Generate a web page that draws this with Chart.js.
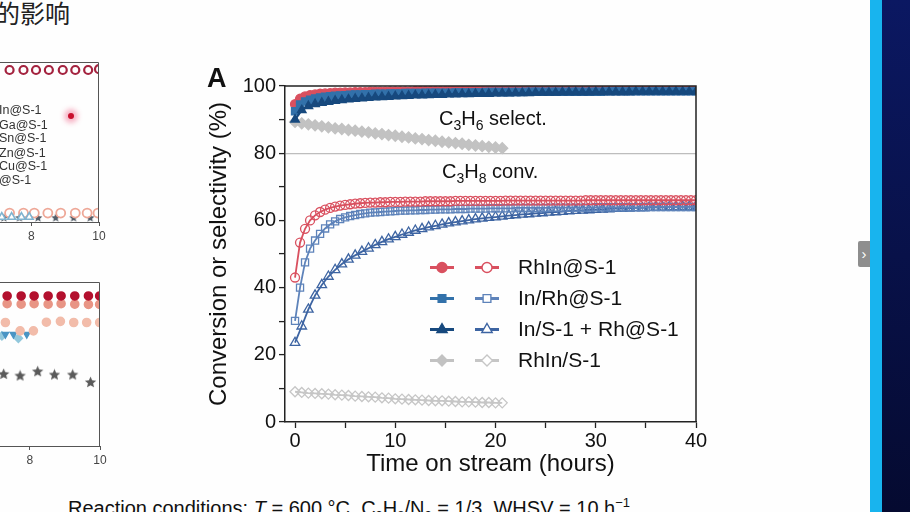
<!DOCTYPE html>
<html><head><meta charset="utf-8">
<script src="https://cdn.jsdelivr.net/npm/chart.js@4.4.1/dist/chart.umd.min.js"></script>
<style>
html,body{margin:0;padding:0;background:#fff;}
#page{position:relative;width:910px;height:512px;overflow:hidden;background:#fefefe;font-family:"Liberation Sans",Arial,sans-serif;color:#111;}
canvas{position:absolute;}
#title{position:absolute;left:-5px;top:-1px;font-family:"Noto Sans CJK SC",sans-serif;font-size:25px;line-height:27px;color:#222;}
.lg{position:absolute;left:-1px;font-size:12.5px;line-height:14px;color:#333;}
#dot{position:absolute;left:68px;top:113px;width:6px;height:6px;border-radius:50%;background:#c8102e;box-shadow:0 0 5px 4px rgba(240,90,130,0.45);}
#caption{position:absolute;left:68px;top:496px;font-size:20px;line-height:24px;white-space:nowrap;color:#111;}
#caption sub,#caption sup{font-size:13px;line-height:0;}
#cyan{position:absolute;left:870px;top:0;width:12px;height:512px;background:#18b4ee;}
#dark{position:absolute;left:882px;top:0;width:28px;height:512px;background:linear-gradient(#0b1862,#050a30);}
#tab{position:absolute;left:858px;top:241px;width:12px;height:26px;background:#8e8e8e;border-radius:2px 0 0 2px;color:#fff;font-size:15px;line-height:26px;text-align:center;}
</style></head><body>
<div id="page">
  <div id="title">的影响</div>
  <canvas id="lt" width="366" height="200" style="left:-246px;top:50px;width:366px;height:200px;"></canvas>
  <canvas id="lb" width="376" height="200" style="left:-256px;top:270px;width:376px;height:200px;"></canvas>
  <div class="lg" style="top:103px">In@S-1</div>
  <div class="lg" style="top:118px">Ga@S-1</div>
  <div class="lg" style="top:131px">Sn@S-1</div>
  <div class="lg" style="top:146px">Zn@S-1</div>
  <div class="lg" style="top:159px">Cu@S-1</div>
  <div class="lg" style="top:173px">@S-1</div>
  <div id="dot"></div>
  <canvas id="main" width="530" height="440" style="left:190px;top:50px;width:530px;height:440px;"></canvas>
  <div id="caption">Reaction conditions: <i>T</i> = 600 °C, C<sub>3</sub>H<sub>8</sub>/N<sub>2</sub> = 1/3, WHSV = 10 h<sup>−1</sup></div>
  <div id="tab">›</div>
  <div id="cyan"></div><div id="dark"></div>
</div>
<script>
// ---------- main chart data ----------
const tA = [0,0.5,1,1.5,2,2.5,3,3.5,4,4.5,
 5,5.5,6,6.5,7,7.5,8,8.5,9,9.5,
 10,10.5,11,11.5,12,12.5,13,13.5,14,14.5,
 15,15.5,16,16.5,17,17.5,18,18.5,19,19.5,
 20,20.5,21,21.5,22,22.5,23,23.5,24,24.5,
 25,25.5,26,26.5,27,27.5,28,28.5,29,29.5,
 30,30.5,31,31.5,32,32.5,33,33.5,34,34.5,
 35,35.5,36,36.5,37,37.5,38,38.5,39,39.5,
 40];
const tB = [0,0.67,1.33,2,2.67,3.33,4,4.67,5.33,
 6,6.67,7.33,8,8.67,9.33,10,10.67,11.33,
 12,12.67,13.33,14,14.67,15.33,16,16.67,17.33,
 18,18.67,19.33,20,20.67,21.33,22,22.67,23.33,
 24,24.67,25.33,26,26.67,27.33,28,28.67,29.33,
 30,30.67,31.33,32,32.67,33.33,34,34.67,35.33,
 36,36.67,37.33,38,38.67,39.33,40];
const tGray = [0,0.67,1.33,2,2.67,3.33,4,4.67,5.33,
 6,6.67,7.33,8,8.67,9.33,10,10.67,11.33,
 12,12.67,13.33,14,14.67,15.33,16,16.67,17.33,
 18,18.67,19.33,20,20.67];

const rhInConv = [43,53.4,57.5,60,61.5,62.5,63.2,63.7,64.1,64.4,
 64.6,64.8,65,65.1,65.2,65.3,65.3,65.4,65.4,65.5,
 65.5,65.5,65.6,65.6,65.6,65.6,65.7,65.7,65.7,65.7,
 65.7,65.7,65.8,65.8,65.8,65.8,65.8,65.8,65.8,65.8,
 65.8,65.8,65.9,65.9,65.9,65.9,65.9,65.9,65.9,65.9,
 65.9,65.9,65.9,65.9,65.9,65.9,65.9,65.9,66,66,
 66,66,66,66,66,66,66,66,66,66,
 66,66,66,66,66,66,66,66,66,66,
 66];
const inRhConv = [30.1,40,47.5,51.6,54,56,57.6,58.8,59.7,60.4,
 60.9,61.3,61.6,61.9,62.1,62.3,62.4,62.5,62.6,62.7,
 62.8,62.9,62.9,63,63,63.1,63.1,63.2,63.2,63.3,
 63.3,63.3,63.4,63.4,63.4,63.5,63.5,63.5,63.5,63.6,
 63.6,63.6,63.6,63.6,63.7,63.7,63.7,63.7,63.7,63.7,
 63.7,63.8,63.8,63.8,63.8,63.8,63.8,63.8,63.8,63.8,
 63.9,63.9,63.9,63.9,63.9,63.9,63.9,63.9,63.9,63.9,
 63.9,64,64,64,64,64,64,64,64,64,
 64];
const triConv = [23.6,28.5,33.5,37.7,40.8,43.3,45.3,47,48.4,
 49.6,50.7,51.7,52.7,53.6,54.4,55.1,55.8,56.4,
 57,57.5,58,58.4,58.8,59.2,59.5,59.8,60.1,
 60.4,60.6,60.8,61,61.2,61.4,61.6,61.8,61.9,
 62.1,62.2,62.4,62.5,62.6,62.8,62.9,63,63.1,
 63.2,63.3,63.4,63.5,63.5,63.6,63.7,63.7,63.8,
 63.9,63.9,64,64,64.1,64.1,64.2];
const grayConv = [9.0,8.8,8.6,8.5,8.4,8.3,8.1,8.0,7.9,
 7.7,7.6,7.5,7.4,7.2,7.1,6.9,6.8,6.7,
 6.6,6.5,6.4,6.3,6.3,6.2,6.1,6.0,6.0,
 5.9,5.8,5.8,5.7,5.7];

const rhInSel = [94.6,96.2,96.9,97.3,97.5,97.7,97.8,97.9,98,98,
 98.1,98.1,98.2,98.2,98.2,98.3,98.3,98.3,98.3,98.4,
 98.4,98.4,98.4,98.4,98.5,98.5,98.5,98.5,98.5,98.5,
 98.5,98.6,98.6,98.6,98.6,98.6,98.6,98.6,98.6,98.6,
 98.6,98.7,98.7,98.7,98.7,98.7,98.7,98.7,98.7,98.7,
 98.7,98.7,98.7,98.7,98.7,98.8,98.8,98.8,98.8,98.8,
 98.8,98.8,98.8,98.8,98.8,98.8,98.8,98.8,98.8,98.8,
 98.8,98.8,98.8,98.8,98.8,98.8,98.8,98.8,98.8,98.8,
 98.8];
const inRhSel = [92.5,94.5,95.4,95.9,96.3,96.6,96.8,97,97.1,97.2,
 97.3,97.4,97.5,97.5,97.6,97.6,97.7,97.7,97.7,97.8,
 97.8,97.8,97.9,97.9,97.9,97.9,98,98,98,98,
 98,98,98.1,98.1,98.1,98.1,98.1,98.1,98.2,98.2,
 98.2,98.2,98.2,98.2,98.2,98.2,98.3,98.3,98.3,98.3,
 98.3,98.3,98.3,98.3,98.3,98.3,98.3,98.3,98.3,98.3,
 98.3,98.3,98.4,98.4,98.4,98.4,98.4,98.4,98.4,98.4,
 98.4,98.4,98.4,98.4,98.4,98.4,98.4,98.4,98.4,98.4,
 98.4];
const triSel = [90,92.8,94,94.6,95,95.3,95.6,95.8,96,
 96.2,96.3,96.5,96.6,96.7,96.8,96.9,97,97.1,
 97.2,97.2,97.3,97.4,97.4,97.5,97.5,97.6,97.6,
 97.7,97.7,97.7,97.8,97.8,97.8,97.9,97.9,97.9,
 98,98,98,98,98.1,98.1,98.1,98.1,98.1,
 98.2,98.2,98.2,98.2,98.2,98.2,98.3,98.3,98.3,
 98.3,98.3,98.3,98.3,98.3,98.3,98.3];
const graySel = [89.3,88.9,88.6,88.3,88,87.7,87.4,87.2,86.9,
 86.7,86.4,86.2,85.9,85.7,85.4,85.2,84.9,84.7,
 84.4,84.2,83.9,83.7,83.4,83.2,83,82.8,82.5,
 82.3,82.1,81.9,81.7,81.5];

const seriesNames = ['RhIn@S-1','In/Rh@S-1','In/S-1 + Rh@S-1','RhIn/S-1'];
const xTickVals = [0,5,10,15,20,25,30,35,40];
const yTickVals = [0,10,20,30,40,50,60,70,80,90,100];
const xAxisTitle = 'Time on stream (hours)';
const yAxisTitle = 'Conversion or selectivity (%)';

// ---------- left (cropped) panels data ----------
const ltRedX = [7.36,7.77,8.14,8.52,8.93,9.30,9.68,10];
const ltRedY = [95,95,95,95,95,95,95,95.5];
const ltPinkX = [7.36,7.77,8.09,8.49,8.87,9.30,9.65,9.97];
const ltPinkY = [5.6,5.6,5.6,5.6,5.6,5.6,5.6,5.6];
const ltStarX = [7.19,7.65,8.2,8.72,9.25,9.74];
const ltStarY = [2.5,2.5,2.5,2.5,2.5,2.5];
const ltTriX = [7.13,7.42,7.71,7.94];
const ltTriY = [3.1,3.1,3.1,3.1];

const lbDarkX = [7.35,7.75,8.12,8.52,8.89,9.28,9.67,9.99];
const lbDarkY = [91.5,91.5,91.5,91.5,91.5,91.5,91.5,91.5];
const lbSalX = [7.35,7.75,8.12,8.52,8.89,9.28,9.67,9.99];
const lbSalY = [86.8,86.5,86.8,86.5,86.8,86.5,86.3,86.3];
const lbLightX = [7.3,7.72,8.1,8.47,8.87,9.25,9.62,9.99];
const lbLightY = [75.3,70.2,70.2,75.5,76,75.3,75.3,75.3];
const lbTriX = [7.3,7.53,7.91];
const lbTriY = [68.1,68.1,68.1];
const lbDiaX = [7.2,7.67];
const lbDiaY = [67.1,65.7];
const lbStarX = [7.25,7.72,8.22,8.7,9.22,9.73];
const lbStarY = [43.7,42.7,45.3,43.3,43.3,38.7];
const leftTickVals = [2,4,6,8,10];

// ---------- styling ----------
const FAM = '"Liberation Sans", Arial, sans-serif';
const RED = '#d9505f', BLUE = '#3271aa', BLUE_O = '#5e83ba', NAVY = '#17497e', TRI_O = '#3d64a2', GRAY = '#c2c2c2', GRAY_O = '#c6c6c6';
const CLEAR = 'rgba(255,255,255,0)';

function pts(ts, vs){ return vs.map((v,i)=>({x:ts[i], y:v})); }
function ds(label, ts, vs, o){
  return Object.assign({label, data:pts(ts,vs), borderWidth:1.8, pointRadius:4.5, pointBorderWidth:1.3,
    tension:0, fill:false, pointHoverRadius:0}, o);
}

const datasets = [
  ds(seriesNames[2]+' sel', tB, triSel, {borderColor:NAVY, pointBorderColor:NAVY, pointBackgroundColor:NAVY, pointStyle:'triangle', pointRadius:5, borderWidth:2.2, order:0}),
  ds(seriesNames[1]+' sel', tA, inRhSel, {borderColor:BLUE, pointBorderColor:BLUE, pointBackgroundColor:BLUE, pointStyle:'rect', pointRadius:5, order:1}),
  ds(seriesNames[0]+' sel', tA, rhInSel, {borderColor:RED, pointBorderColor:RED, pointBackgroundColor:RED, pointStyle:'circle', order:2}),
  ds(seriesNames[0]+' conv', tA, rhInConv, {borderColor:RED, pointBorderColor:RED, pointBackgroundColor:CLEAR, pointStyle:'circle', order:3}),
  ds(seriesNames[1]+' conv', tA, inRhConv, {borderColor:BLUE_O, pointBorderColor:BLUE_O, pointBackgroundColor:CLEAR, pointStyle:'rect', pointRadius:5, order:4}),
  ds(seriesNames[2]+' conv', tB, triConv, {borderColor:TRI_O, pointBorderColor:TRI_O, pointBackgroundColor:CLEAR, pointStyle:'triangle', pointRadius:5.5, order:5}),
  ds(seriesNames[3]+' sel', tGray, graySel, {borderColor:GRAY, pointBorderColor:GRAY, pointBackgroundColor:GRAY, pointStyle:'rectRot', pointRadius:5.5, order:6}),
  ds(seriesNames[3]+' conv', tGray, grayConv, {borderColor:GRAY_O, pointBorderColor:GRAY_O, pointBackgroundColor:CLEAR, pointStyle:'rectRot', pointRadius:5, order:7}),
];

function marker(ctx, style, x, y, r, fill, stroke, lw){
  ctx.save();
  ctx.beginPath();
  if (style==='circle') ctx.arc(x,y,r,0,Math.PI*2);
  else if (style==='rect'){ const s=r*Math.SQRT1_2; ctx.rect(x-s,y-s,2*s,2*s); }
  else if (style==='triangle'){ for(let k=0;k<3;k++){ const a=k*2*Math.PI/3; const px=x+Math.sin(a)*r, py=y-Math.cos(a)*r; k?ctx.lineTo(px,py):ctx.moveTo(px,py);} ctx.closePath(); }
  else if (style==='rectRot'){ ctx.moveTo(x-r,y); ctx.lineTo(x,y-r); ctx.lineTo(x+r,y); ctx.lineTo(x,y+r); ctx.closePath(); }
  if (fill){ ctx.fillStyle=fill; ctx.fill(); }
  ctx.lineWidth=lw; ctx.strokeStyle=stroke; ctx.stroke();
  ctx.restore();
}

function subText(ctx, parts, x, y, big, small){
  let cx = x;
  parts.forEach(p=>{
    ctx.font = (p.sub? small: big) + 'px ' + FAM;
    ctx.fillText(p.t, cx, y + (p.sub? 5: 0));
    cx += ctx.measureText(p.t).width;
  });
}

const mainPlugin = {
  id:'mainDeco',
  afterDatasetsDraw(chart){
    const {ctx, chartArea:a} = chart;
    ctx.save();
    ctx.strokeStyle='#222'; ctx.lineWidth=1.5;
    ctx.beginPath(); ctx.moveTo(a.left, a.top); ctx.lineTo(a.right, a.top); ctx.lineTo(a.right, a.bottom); ctx.stroke();
    ctx.fillStyle='#111'; ctx.textBaseline='alphabetic';
    subText(ctx, [{t:'C'},{t:'3',sub:1},{t:'H'},{t:'6',sub:1},{t:' select.'}], a.left+154, a.top+39, 20, 14);
    subText(ctx, [{t:'C'},{t:'3',sub:1},{t:'H'},{t:'8',sub:1},{t:' conv.'}], a.left+157, a.top+92, 20, 14);
    ctx.font = 'bold 27px ' + FAM;
    ctx.fillText('A', a.left-78, a.top+1);
    const rows = [
      ['circle', RED, RED, 4.5],
      ['rect', BLUE, BLUE_O, 5],
      ['triangle', NAVY, TRI_O, 5.5],
      ['rectRot', GRAY, GRAY_O, 5],
    ];
    rows.forEach((r,i)=>{
      const y = a.top + 181.5 + i*31;
      const x1 = a.left + 157, x2 = a.left + 202;
      ctx.lineWidth = 3;
      ctx.strokeStyle = r[1]; ctx.beginPath(); ctx.moveTo(x1-12,y); ctx.lineTo(x1+12,y); ctx.stroke();
      marker(ctx, r[0], x1, y, r[3]+0.5, r[1], r[1], 1.3);
      ctx.strokeStyle = r[2]; ctx.lineWidth = 3; ctx.beginPath(); ctx.moveTo(x2-12,y); ctx.lineTo(x2+12,y); ctx.stroke();
      marker(ctx, r[0], x2, y, r[3]+0.5, '#fff', r[2], 1.4);
      ctx.fillStyle='#111'; ctx.font='21px '+FAM; ctx.textBaseline='middle';
      ctx.fillText(seriesNames[i], a.left + 233, y+1);
    });
    ctx.restore();
  }
};

new Chart(document.getElementById('main'), {
  type:'line',
  data:{datasets},
  plugins:[mainPlugin],
  options:{
    responsive:false, animation:false, devicePixelRatio:1,
    layout:{padding:{top:36, right:24, left:0, bottom:0}},
    plugins:{legend:{display:false}, tooltip:{enabled:false}},
    events:[],
    scales:{
      x:{type:'linear', min:-1, max:40,
        afterBuildTicks:s=>{ s.ticks = xTickVals.map(v=>({value:v})); },
        afterFit:s=>{ s.height = 68; },
        ticks:{callback:v=> (v%10===0 ? String(v) : ''), font:{size:20, family:FAM}, color:'#111', padding:1, maxRotation:0, autoSkip:false},
        grid:{drawOnChartArea:false, tickLength:6, tickColor:'#222', tickWidth:1.3},
        border:{color:'#222', width:1.5},
        title:{display:true, text:xAxisTitle, font:{size:24, family:FAM}, color:'#111', padding:{top:0, bottom:11}}
      },
      y:{min:0, max:100,
        afterBuildTicks:s=>{ s.ticks = yTickVals.map(v=>({value:v})); },
        afterFit:s=>{ s.width = 95; },
        ticks:{callback:v=> (v%20===0 ? String(v) : ''), font:{size:20, family:FAM}, color:'#111', padding:3, autoSkip:false},
        grid:{drawOnChartArea:true, color:c=> (c.tick && c.tick.value===80 ? '#bdbdbd' : 'rgba(0,0,0,0)'), lineWidth:1.2, tickLength:6, tickColor:'#222', tickWidth:1.3},
        border:{color:'#222', width:1.5},
        title:{display:true, text:yAxisTitle, font:{size:24, family:FAM}, color:'#111', padding:{top:15, bottom:0}}
      }
    }
  }
});

// ---------- left panels ----------
function starImg(size, color){
  const c = document.createElement('canvas'); c.width=size; c.height=size;
  const g = c.getContext('2d'); const r=size/2, ri=r*0.42;
  g.beginPath();
  for(let k=0;k<10;k++){ const rr = k%2? ri: r-0.5; const a = -Math.PI/2 + k*Math.PI/5; const px=r+Math.cos(a)*rr, py=r+Math.sin(a)*rr; k?g.lineTo(px,py):g.moveTo(px,py);}
  g.closePath(); g.fillStyle=color; g.fill();
  return c;
}
const frame = {id:'frame', afterDatasetsDraw(chart){ const {ctx, chartArea:a}=chart; ctx.save(); ctx.strokeStyle='#555'; ctx.lineWidth=1; ctx.beginPath(); ctx.moveTo(a.left,a.top+0.5); ctx.lineTo(a.right-0.5,a.top+0.5); ctx.lineTo(a.right-0.5,a.bottom); ctx.stroke(); ctx.restore(); }};
function leftOpts(padR, axisH){
  return {responsive:false, animation:false, devicePixelRatio:1, events:[],
    layout:{padding:{top:12, right:padR, left:0, bottom:0}},
    plugins:{legend:{display:false}, tooltip:{enabled:false}},
    scales:{
      x:{type:'linear', min:0, max:10, afterBuildTicks:s=>{ s.ticks = leftTickVals.map(v=>({value:v})); }, afterFit:s=>{ s.height=axisH; },
        ticks:{font:{size:12, family:FAM}, color:'#444', padding:3, maxRotation:0}, grid:{drawOnChartArea:false, tickLength:4, tickColor:'#555'}, border:{color:'#555', width:1}},
      y:{display:false, min:0, max:100}
    }};
}
function sc(xs, ys, o){ return Object.assign({type:'scatter', data:pts(xs,ys), pointRadius:4, pointBorderWidth:1.6, showLine:false}, o); }
new Chart(document.getElementById('lt'), {
  type:'scatter', plugins:[frame],
  data:{datasets:[
    sc(ltRedX, ltRedY, {pointStyle:'circle', pointBorderColor:'#a4233f', pointBackgroundColor:'#fff', pointBorderWidth:2.2}),
    sc(ltTriX, ltTriY, {pointStyle:'triangle', pointBorderColor:'#7fb3d0', pointBackgroundColor:'#fff', pointRadius:4.5}),
    sc(ltPinkX, ltPinkY, {pointStyle:'circle', pointBorderColor:'#eea898', pointBackgroundColor:'#fff', pointBorderWidth:1.8, pointRadius:4.5}),
    sc(ltStarX, ltStarY, {pointStyle:starImg(10,'#555f6a')}),
  ]},
  options:leftOpts(21, 28)
});
new Chart(document.getElementById('lb'), {
  type:'scatter', plugins:[frame],
  data:{datasets:[
    sc(lbDarkX, lbDarkY, {pointStyle:'circle', pointBorderColor:'#b3102e', pointBackgroundColor:'#b3102e', pointRadius:4}),
    sc(lbSalX, lbSalY, {pointStyle:'circle', pointBorderColor:'#e89585', pointBackgroundColor:'#e89585', pointRadius:4}),
    sc(lbLightX, lbLightY, {pointStyle:'circle', pointBorderColor:'#f2bcaa', pointBackgroundColor:'#f2bcaa', pointRadius:4}),
    sc(lbTriX, lbTriY, {pointStyle:'triangle', pointBorderColor:'#4a95c4', pointBackgroundColor:'#4a95c4', pointRadius:3.5, rotation:180}),
    sc(lbDiaX, lbDiaY, {pointStyle:'rectRot', pointBorderColor:'#92c8dc', pointBackgroundColor:'#92c8dc', pointRadius:4}),
    sc(lbStarX, lbStarY, {pointStyle:starImg(13,'#5a5a5a')}),
  ]},
  options:leftOpts(20, 24)
});
</script>
</body></html>
